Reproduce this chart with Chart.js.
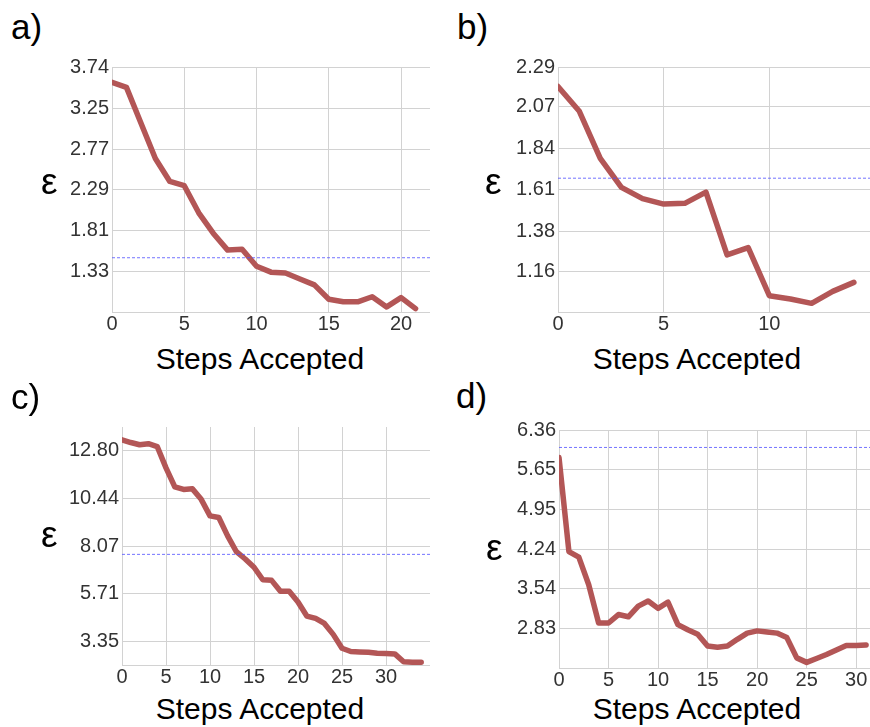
<!DOCTYPE html>
<html>
<head>
<meta charset="utf-8">
<script src="https://cdn.jsdelivr.net/npm/chart.js@4.4.1/dist/chart.umd.min.js"></script>
<style>
  html, body { margin:0; padding:0; background:#fff; width:870px; height:727px; overflow:hidden; }
  body { position:relative; }
  canvas { position:absolute; }
  .lbl { position:absolute; font-family:'Liberation Sans', Arial, sans-serif; line-height:1; color:#000; white-space:nowrap; }
  .pan { font-size:35px; }
  .eps { font-size:37px; }
  .xt { font-size:30px; transform:translateX(-50%); }
</style>
</head>
<body>
<canvas id="cA" width="400" height="284" style="left:30px;top:52px;width:400px;height:284px"></canvas>
<canvas id="cB" width="397" height="284" style="left:478px;top:52px;width:397px;height:284px"></canvas>
<canvas id="cC" width="400" height="277" style="left:30px;top:412px;width:400px;height:277px"></canvas>
<canvas id="cD" width="398" height="277" style="left:478px;top:415px;width:398px;height:277px"></canvas>

<div class="lbl pan" style="left:11px;top:9px">a)</div>
<div class="lbl pan" style="left:457px;top:9px">b)</div>
<div class="lbl pan" style="left:11px;top:379px">c)</div>
<div class="lbl pan" style="left:456px;top:378px">d)</div>

<div class="lbl eps" style="left:41px;top:163px">ε</div>
<div class="lbl eps" style="left:485px;top:163px">ε</div>
<div class="lbl eps" style="left:41px;top:516px">ε</div>
<div class="lbl eps" style="left:486px;top:529px">ε</div>

<div class="lbl xt" style="left:260px;top:344px">Steps Accepted</div>
<div class="lbl xt" style="left:697px;top:344px">Steps Accepted</div>
<div class="lbl xt" style="left:260px;top:694px">Steps Accepted</div>
<div class="lbl xt" style="left:697px;top:694px">Steps Accepted</div>

<script>
// ---- data ----
const epsA = [3.56, 3.50, 3.08, 2.66, 2.39, 2.34, 2.02, 1.78, 1.58, 1.59, 1.39, 1.32, 1.31, 1.24, 1.17, 1.00, 0.97, 0.97, 1.03, 0.91, 1.02, 0.89];
const epsB = [2.182, 2.047, 1.785, 1.624, 1.562, 1.532, 1.536, 1.598, 1.251, 1.291, 1.025, 1.007, 0.983, 1.049, 1.099];
const epsC = [13.34, 13.21, 13.10, 13.15, 13.01, 11.95, 11.01, 10.88, 10.91, 10.39, 9.57, 9.49, 8.58, 7.79, 7.43, 7.02, 6.40, 6.37, 5.83, 5.83, 5.30, 4.60, 4.48, 4.23, 3.69, 3.00, 2.84, 2.82, 2.80, 2.75, 2.74, 2.72, 2.33, 2.31, 2.31];
const epsD = [5.87, 4.20, 4.10, 3.61, 2.93, 2.93, 3.08, 3.04, 3.23, 3.32, 3.19, 3.30, 2.90, 2.81, 2.73, 2.52, 2.50, 2.52, 2.64, 2.75, 2.79, 2.77, 2.75, 2.67, 2.31, 2.23, 2.30, 2.37, 2.45, 2.53, 2.53, 2.54];

const thresholdA = 1.49;
const thresholdB = 1.675;
const thresholdC = 7.66;
const thresholdD = 6.05;

const yTicksA = [1.33, 1.81, 2.29, 2.77, 3.25, 3.74];
const yTicksB = [1.16, 1.38, 1.61, 1.84, 2.07, 2.29];
const yTicksC = [3.35, 5.71, 8.07, 10.44, 12.80];
const yMinorC = [4.53, 6.89, 9.25, 11.62, 13.98];
const yTicksD = [2.83, 3.54, 4.24, 4.95, 5.65, 6.36];

const xTicksA = [0, 5, 10, 15, 20];
const xTicksB = [0, 5, 10];
const xTicksC = [0, 5, 10, 15, 20, 25, 30];
const xTicksD = [0, 5, 10, 15, 20, 25, 30];

// ---- chart builder ----
Chart.defaults.font.family = "'Liberation Sans', Arial, sans-serif";
const GRID = '#d2d2d2';
const LINE = '#b35656';
const DASH = 'rgba(80,80,255,0.8)';

function build(id, eps, thr, xMax, xTicks, yMin, yMax, yTicks, yMinor, yW) {
  const pts = eps.map((v, i) => ({x: i, y: v}));
  const xAll = xTicks.concat([xMax]);
  const yAll = yTicks.concat(yMinor).sort((a, b) => a - b);
  new Chart(document.getElementById(id), {
    type: 'line',
    data: {
      datasets: [
        { data: [{x: 0, y: thr}, {x: xMax, y: thr}], borderColor: DASH, borderWidth: 1,
          borderDash: [3, 2], pointRadius: 0, fill: false },
        { data: pts, borderColor: LINE, borderWidth: 5.5, borderCapStyle: 'round',
          borderJoinStyle: 'round', pointRadius: 0, tension: 0, fill: false }
      ]
    },
    options: {
      responsive: false, animation: false, devicePixelRatio: 1,
      layout: { padding: { top: 13, right: 0, left: 0, bottom: 0 } },
      plugins: { legend: { display: false }, tooltip: { enabled: false } },
      scales: {
        x: {
          type: 'linear', min: 0, max: xMax,
          afterBuildTicks: s => { s.ticks = xAll.map(v => ({value: v})); },
          afterFit: s => { s.height = 24; },
          ticks: { color: '#333', font: { size: 20 }, padding: 0, maxRotation: 0,
                   callback: v => xTicks.includes(v) ? String(v) : '' },
          grid: { color: GRID, lineWidth: 1, drawTicks: false },
          border: { color: GRID, width: 1 }
        },
        y: {
          type: 'linear', min: yMin, max: yMax,
          afterBuildTicks: s => { s.ticks = yAll.map(v => ({value: v})); },
          afterFit: s => { s.width = yW; },
          ticks: { color: '#333', font: { size: 20 }, padding: 3,
                   callback: v => yTicks.includes(v) ? v.toFixed(2) : '' },
          grid: { color: GRID, lineWidth: 1, drawTicks: false },
          border: { color: GRID, width: 1 }
        }
      }
    }
  });
}

build('cA', epsA, thresholdA, 22, xTicksA, 0.85, 3.74, yTicksA, [], 82);
build('cB', epsB, thresholdB, 15, xTicksB, 0.935, 2.29, yTicksB, [], 80);
build('cC', epsC, thresholdC, 35, xTicksC, 2.17, 13.98, yTicksC, yMinorC, 92);
build('cD', epsD, thresholdD, 32, xTicksD, 2.13, 6.36, yTicksD, [], 81);
</script>
</body>
</html>
